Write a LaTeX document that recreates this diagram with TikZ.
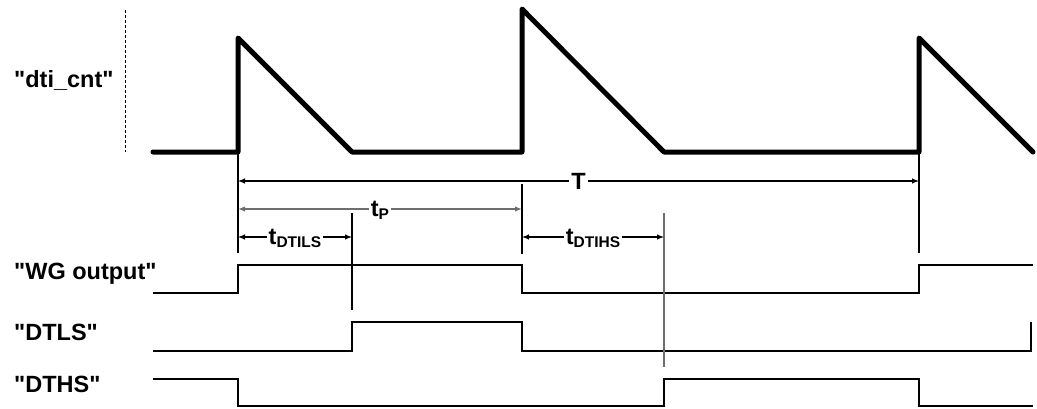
\documentclass[tikz,border=0pt]{standalone}
\usepackage{fontspec}
\setmainfont{Liberation Sans}
\usetikzlibrary{arrows.meta}
\definecolor{GrisCota}{HTML}{6E6E6E}
\newcommand{\tsub}[1]{\raisebox{-3pt}{\fontsize{15.5}{16}\selectfont #1}}
\newcommand{\qsig}[1]{\textquotedbl#1\textquotedbl}

\begin{document}
\begin{tikzpicture}[
  x=1pt,y=-1pt,
  >={Latex[length=7pt,width=5.5pt]},
  every node/.style={font=\bfseries\fontsize{23.5}{26}\selectfont,inner sep=0pt},
  counter/.style={line width=5pt,line join=round,line cap=round},
  signal/.style={line width=2.4pt},
  extline/.style={line width=1.1pt},
  dimarrow/.style={line width=1.1pt,<->},
  tlabel/.style={fill=white,inner xsep=2pt,inner ysep=1pt}
]
  \useasboundingbox (0,0) rectangle (1037,408);

  % Nombres de las señales.
  \node[anchor=base west] (nCnt) at (14,87) {\qsig{dti\_cnt}};
  \node[anchor=base west] (nWG) at (14,279) {\qsig{WG output}};
  \node[anchor=base west] (nDTLS) at (14,340) {\qsig{DTLS}};
  \node[anchor=base west] (nDTHS) at (14,392) {\qsig{DTHS}};
  \draw[line width=1pt,dash pattern=on 3pt off 2pt] (125,10) -- (125,152);

  % Contador dti_cnt.
  \draw[counter] (153,152) -- (238,152) -- (238,38) -- (352,152) -- (522,152)
    -- (522,9) -- (664,152) -- (919,152) -- (919,38) -- (1033,152);

  % Salidas digitales.
  \draw[signal] (153,293) -- (238,293) -- (238,265) -- (522,265) -- (522,293)
    -- (919,293) -- (919,265) -- (1033,265);
  \draw[signal] (153,351) -- (352,351) -- (352,322) -- (522,322) -- (522,351)
    -- (1031,351) -- (1031,322);
  \draw[signal] (153,379) -- (238,379) -- (238,406) -- (664,406) -- (664,379)
    -- (919,379) -- (919,406) -- (1033,406);

  % Lineas de referencia.
  \draw[extline] (238,152) -- (238,253);
  \draw[extline] (522,184) -- (522,254);
  \draw[extline] (352,213) -- (352,310);
  \draw[extline,GrisCota,line width=1.5pt] (664,213) -- (664,367);
  \draw[extline] (919,152) -- (919,253);

  % Cotas de tiempo.
  \coordinate (Ta) at (238,181);
  \coordinate (Tb) at (919,181);
  \coordinate (Pa) at (238,209);
  \coordinate (Pb) at (522,209);
  \coordinate (La) at (238,237);
  \coordinate (Lb) at (352,237);
  \coordinate (Ha) at (522,237);
  \coordinate (Hb) at (664,237);
  \draw[dimarrow] (Ta) -- node[tlabel] (lblT) {T} (Tb);
  \draw[dimarrow,GrisCota,line width=1.5pt] (Pa) -- node[tlabel,text=black,yshift=-1pt] (lblP) {t\tsub{P}} (Pb);
  \draw[dimarrow] (La) -- node[tlabel,yshift=-1pt] (lblL) {t\tsub{DTILS}} (Lb);
  \draw[dimarrow] (Ha) -- node[tlabel,yshift=-1pt] (lblH) {t\tsub{DTIHS}} (Hb);
\end{tikzpicture}
\end{document}
